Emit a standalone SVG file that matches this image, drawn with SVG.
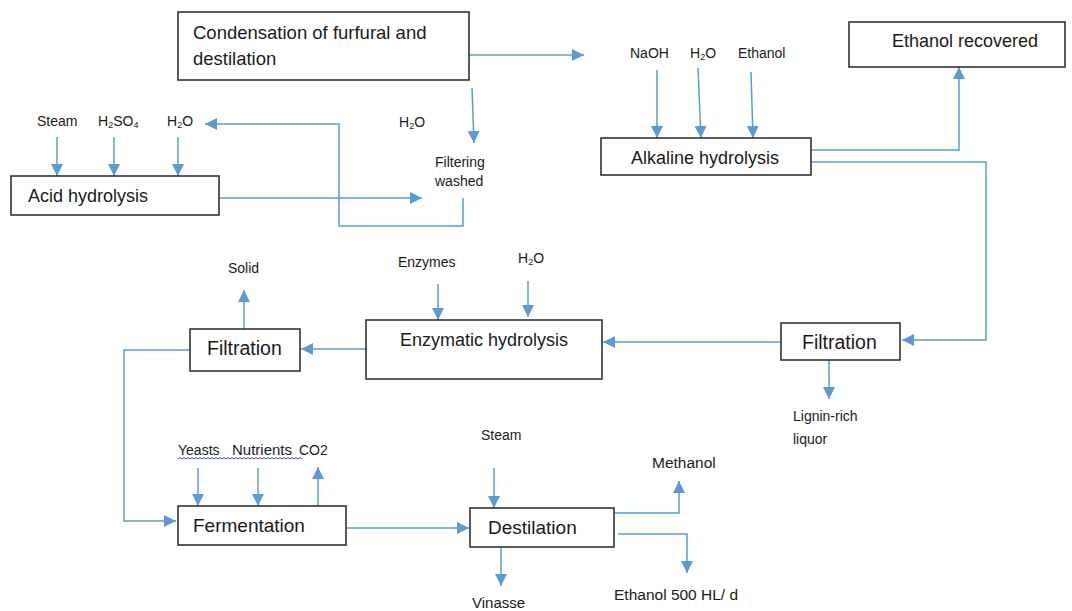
<svg xmlns="http://www.w3.org/2000/svg" width="1072" height="611" viewBox="0 0 1072 611">
<style>
  .box { fill: #ffffff; stroke: #262626; stroke-width: 1.5; }
  .lbl { font-family: "Liberation Sans", Arial, sans-serif; font-size: 18px; fill: #1a1a1a; }
  .sm { font-family: "Liberation Sans", Arial, sans-serif; font-size: 14px; fill: #1a1a1a; }
  .sub { font-size: 9px; }
  .c { fill: none; stroke: #5B9BD5; stroke-width: 1.5; marker-end: url(#ah); }
  .sq { fill: none; stroke: #3c3cff; stroke-width: 1; }
</style>
<defs>
  <marker id="ah" markerUnits="userSpaceOnUse" markerWidth="12" markerHeight="12" viewBox="0 0 12 12" refX="12" refY="6" orient="auto">
    <path d="M0,0 L12,6 L0,12 z" fill="#5B9BD5"/>
  </marker>
</defs>
<rect x="0" y="0" width="1072" height="611" fill="#ffffff"/>

<g id="connectors">
  <path class="c" d="M469,55 L584,55"/>
  <path class="c" d="M472,88 L474,143"/>
  <path class="c" d="M219,198 L422,198"/>
  <path class="c" d="M463,198 L463,226 L339,226 L339,124 L205,124"/>
  <path class="c" d="M57,137 L57,176"/>
  <path class="c" d="M114,137 L114,176"/>
  <path class="c" d="M178,137 L178,176"/>
  <path class="c" d="M657,70 L657,138"/>
  <path class="c" d="M698,68 L701,138"/>
  <path class="c" d="M751,72 L753,138"/>
  <path class="c" d="M811,150 L959,150 L959,67"/>
  <path class="c" d="M811,162 L986,162 L986,340 L902,340"/>
  <path class="c" d="M781,342 L603,342"/>
  <path class="c" d="M829,360 L829,399"/>
  <path class="c" d="M438,284 L438,320"/>
  <path class="c" d="M528,281 L528,317"/>
  <path class="c" d="M366,349 L301,349"/>
  <path class="c" d="M244,329 L244,290"/>
  <path class="c" d="M190,350 L124,350 L124,521 L176,521"/>
  <path class="c" d="M198,468 L198,506"/>
  <path class="c" d="M258,468 L258,506"/>
  <path class="c" d="M318,506 L318,467"/>
  <path class="c" d="M346,528 L469,528"/>
  <path class="c" d="M494,468 L494,508"/>
  <path class="c" d="M501,547 L501,586"/>
  <path class="c" d="M614,513 L679,513 L679,481"/>
  <path class="c" d="M618,534 L687,534 L687,573"/>
</g>

<g id="condensation">
  <rect class="box" x="178" y="12" width="291" height="68"/>
  <text class="lbl" x="193" y="39" style="font-size:18.5px">Condensation of furfural and</text>
  <text class="lbl" x="193" y="65" style="font-size:18.5px">destilation</text>
</g>
<g id="ethanol-recovered">
  <rect class="box" x="849" y="22" width="216" height="45"/>
  <text class="lbl" x="892" y="47">Ethanol recovered</text>
</g>
<g id="acid-hydrolysis">
  <rect class="box" x="11" y="176" width="208" height="39"/>
  <text class="lbl" x="28" y="202">Acid hydrolysis</text>
</g>
<g id="alkaline-hydrolysis">
  <rect class="box" x="601" y="138" width="210" height="37"/>
  <text class="lbl" x="631" y="164">Alkaline hydrolysis</text>
</g>
<g id="enzymatic-hydrolysis">
  <rect class="box" x="366" y="320" width="236" height="59"/>
  <text class="lbl" x="400" y="346">Enzymatic hydrolysis</text>
</g>
<g id="filtration-right">
  <rect class="box" x="781" y="323" width="119" height="37"/>
  <text class="lbl" x="802" y="349" style="font-size:19.5px">Filtration</text>
</g>
<g id="filtration-left">
  <rect class="box" x="190" y="329" width="110" height="42"/>
  <text class="lbl" x="207" y="355" style="font-size:19.5px">Filtration</text>
</g>
<g id="fermentation">
  <rect class="box" x="178" y="506" width="168" height="39"/>
  <text class="lbl" x="193" y="532" style="font-size:19px">Fermentation</text>
</g>
<g id="destilation">
  <rect class="box" x="470" y="508" width="144" height="39"/>
  <text class="lbl" x="488" y="534" style="font-size:19px">Destilation</text>
</g>

<g id="labels">
  <text class="sm" x="37" y="126">Steam</text>
  <text class="sm" x="98" y="126">H<tspan class="sub" dy="2">2</tspan><tspan dy="-2">SO</tspan><tspan class="sub" dy="2">4</tspan></text>
  <text class="sm" x="167" y="126">H<tspan class="sub" dy="2">2</tspan><tspan dy="-2">O</tspan></text>
  <text class="sm" x="399" y="127">H<tspan class="sub" dy="2">2</tspan><tspan dy="-2">O</tspan></text>
  <text class="sm" x="435" y="167">Filtering</text>
  <text class="sm" x="435" y="186">washed</text>
  <text class="sm" x="630" y="58">NaOH</text>
  <text class="sm" x="690" y="58">H<tspan class="sub" dy="2">2</tspan><tspan dy="-2">O</tspan></text>
  <text class="sm" x="738" y="58">Ethanol</text>
  <text class="sm" x="228" y="273">Solid</text>
  <text class="sm" x="398" y="267">Enzymes</text>
  <text class="sm" x="518" y="263">H<tspan class="sub" dy="2">2</tspan><tspan dy="-2">O</tspan></text>
  <text class="sm" x="793" y="421">Lignin-rich</text>
  <text class="sm" x="793" y="444">liquor</text>
  <text class="sm" x="178" y="455">Yeasts</text>
  <text class="sm" x="232" y="455" style="font-size:15px">Nutrients</text>
  <text class="sm" x="299" y="455">CO2</text>
  <text class="sm" x="481" y="440">Steam</text>
  <text class="sm" x="652" y="468" style="font-size:15.5px">Methanol</text>
  <text class="sm" x="614" y="600" style="font-size:15.5px">Ethanol 500 HL/ d</text>
  <text class="sm" x="472" y="608" style="font-size:15px">Vinasse</text>
  <path class="sq" d="M178,459 l2,-1.5 l2,1.5 l2,-1.5 l2,1.5 l2,-1.5 l2,1.5 l2,-1.5 l2,1.5 l2,-1.5 l2,1.5 l2,-1.5 l2,1.5 l2,-1.5 l2,1.5 l2,-1.5 l2,1.5 l2,-1.5 l2,1.5 l2,-1.5 l2,1.5 l2,-1.5 l2,1.5 l2,-1.5 l2,1.5 l2,-1.5 l2,1.5 l2,-1.5 l2,1.5 l2,-1.5 l2,1.5 l2,-1.5 l2,1.5 l2,-1.5 l2,1.5 l2,-1.5 l2,1.5 l2,-1.5 l2,1.5 l2,-1.5 l2,1.5 l2,-1.5 l2,1.5 l2,-1.5 l2,1.5 l2,-1.5 l2,1.5 l2,-1.5 l2,1.5 l2,-1.5 l2,1.5 l2,-1.5 l2,1.5 l2,-1.5 l2,1.5 l2,-1.5 l2,1.5 l2,-1.5 l2,1.5 l2,-1.5 l2,1.5 l2,-1.5 l2,1.5"/>
</g>
</svg>
